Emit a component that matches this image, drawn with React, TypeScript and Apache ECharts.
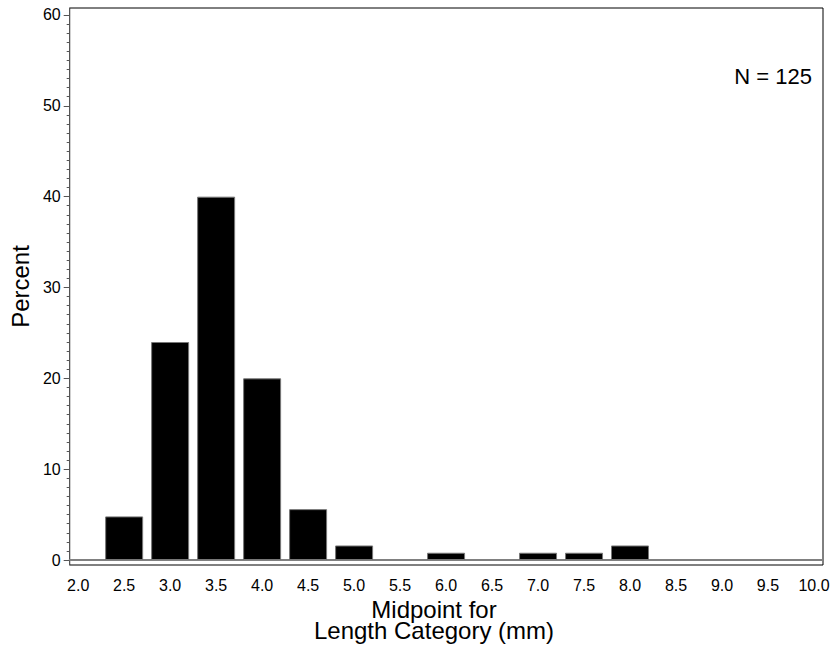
import React, { useEffect, useRef } from "react";
import * as echarts from "echarts";

const midpoints = [2.5, 3.0, 3.5, 4.0, 4.5, 5.0, 6.0, 7.0, 7.5, 8.0];
const percents = [4.8, 24, 40, 20, 5.6, 1.6, 0.8, 0.8, 0.8, 1.6];
const xTickValues = [2.0, 2.5, 3.0, 3.5, 4.0, 4.5, 5.0, 5.5, 6.0, 6.5, 7.0, 7.5, 8.0, 8.5, 9.0, 9.5, 10.0];
const yTickValues = [0, 10, 20, 30, 40, 50, 60];
const yMinorTickValues = Array.from({ length: 61 }, (_, i) => i).filter((v) => v % 10 !== 0);
const nLabel = "N = 125";
const xTitle = "Midpoint for\nLength Category (mm)";

const FONT = "'Liberation Sans', Arial, sans-serif";

export default function App() {
  const ref = useRef<HTMLDivElement>(null);
  useEffect(() => {
    if (!ref.current) return;
    const chart = echarts.init(ref.current, null, { renderer: "svg" });
    const yMin = -0.55;
    const yMax = 60.77;
    chart.setOption({
      animation: false,
      backgroundColor: "#ffffff",
      textStyle: { fontFamily: FONT },
      grid: {
        left: 67,
        right: 13,
        top: 8,
        bottom: 86,
        show: true,
        borderColor: "#000000",
        borderWidth: 1,
        backgroundColor: "transparent",
      },
      xAxis: {
        type: "value",
        min: 1.908,
        max: 10.098,
        axisLine: { show: true, lineStyle: { color: "#808080", width: 2 } },
        axisTick: { show: false },
        splitLine: { show: false },
        axisLabel: {
          customValues: xTickValues,
          formatter: (v: number) => v.toFixed(1),
          color: "#000000",
          fontSize: 16,
          fontFamily: FONT,
          margin: 12,
        },
      },
      yAxis: [
        {
          type: "value",
          min: yMin,
          max: yMax,
          position: "left",
          name: "Percent",
          nameLocation: "middle",
          nameGap: 33,
          nameTextStyle: { fontSize: 24, color: "#000000", fontFamily: FONT },
          axisLine: { show: true, lineStyle: { color: "#555555", width: 1 } },
          axisTick: {
            show: true,
            customValues: yTickValues,
            length: 6,
            lineStyle: { color: "#555555" },
          },
          splitLine: { show: false },
          axisLabel: {
            customValues: yTickValues,
            color: "#000000",
            fontSize: 16,
            fontFamily: FONT,
            margin: 9,
          },
        },
        {
          type: "value",
          min: yMin,
          max: yMax,
          position: "left",
          axisLine: { show: false },
          axisTick: {
            show: true,
            customValues: yMinorTickValues,
            length: 3,
            lineStyle: { color: "#555555" },
          },
          splitLine: { show: false },
          axisLabel: { show: false },
        },
      ],
      series: [
        {
          type: "bar",
          yAxisIndex: 0,
          barWidth: 38,
          data: midpoints.map((m, i) => [m, percents[i]]),
          itemStyle: { color: "#000000", borderColor: "#777777", borderWidth: 1 },
        },
      ],
      graphic: [
        {
          type: "text",
          x: 812,
          y: 65,
          style: {
            text: nLabel,
            fontSize: 22,
            fontFamily: FONT,
            fill: "#000000",
            align: "right",
            verticalAlign: "top",
          },
        },
        {
          type: "text",
          x: 434,
          y: 599,
          style: {
            text: xTitle,
            fontSize: 24,
            lineHeight: 21,
            fontFamily: FONT,
            fill: "#000000",
            align: "center",
            verticalAlign: "top",
          },
        },
      ],
    });
    return () => chart.dispose();
  }, []);
  return (
    <div
      ref={ref}
      style={{ position: "absolute", left: 0, top: 0, width: 836, height: 651 }}
    />
  );
}
